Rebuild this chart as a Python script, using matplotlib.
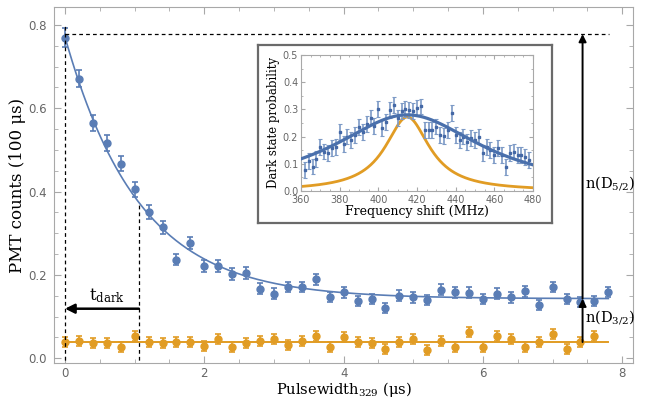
#decay of PMT counts vs 329 pulse width, with an inset of the dark state scan

import numpy as np
import matplotlib
matplotlib.use("Agg")
import matplotlib.pyplot as plt
from matplotlib.ticker import MultipleLocator, FormatStrFormatter

plt.rcParams['mathtext.fontset'] = 'dejavuserif'

#main data (pulse width in us, counts per 100 us)
t_blue = [0.0, 0.2, 0.4, 0.6, 0.8, 1.0, 1.2, 1.4, 1.6, 1.8,
          2.0, 2.2, 2.4, 2.6, 2.8, 3.0, 3.2, 3.4, 3.6, 3.8,
          4.0, 4.2, 4.4, 4.6, 4.8, 5.0, 5.2, 5.4, 5.6, 5.8,
          6.0, 6.2, 6.4, 6.6, 6.8, 7.0, 7.2, 7.4, 7.6, 7.8]
counts_blue = [0.769, 0.671, 0.565, 0.516, 0.467, 0.406, 0.351, 0.314, 0.237, 0.277,
               0.222, 0.222, 0.203, 0.205, 0.167, 0.155, 0.171, 0.171, 0.190, 0.147,
               0.158, 0.138, 0.142, 0.121, 0.150, 0.146, 0.139, 0.165, 0.158, 0.157,
               0.142, 0.155, 0.146, 0.161, 0.127, 0.171, 0.142, 0.135, 0.137, 0.159]
err_blue = [0.023, 0.021, 0.020, 0.019, 0.018, 0.018, 0.017, 0.016, 0.014, 0.015,
            0.014, 0.014, 0.014, 0.014, 0.013, 0.013, 0.013, 0.013, 0.013, 0.013,
            0.013, 0.012, 0.012, 0.012, 0.013, 0.013, 0.012, 0.013, 0.013, 0.013,
            0.012, 0.013, 0.013, 0.013, 0.012, 0.013, 0.012, 0.012, 0.012, 0.013]

t_orange = t_blue[:-1]
counts_orange = [0.038, 0.042, 0.037, 0.037, 0.027, 0.053, 0.038, 0.037, 0.039, 0.039,
                 0.030, 0.046, 0.027, 0.037, 0.042, 0.046, 0.031, 0.042, 0.053, 0.027,
                 0.050, 0.038, 0.037, 0.022, 0.039, 0.047, 0.020, 0.042, 0.027, 0.063,
                 0.026, 0.053, 0.047, 0.027, 0.038, 0.058, 0.023, 0.038, 0.053]
err_orange = 0.012

#fit parameters
fit_offset = 0.143
fit_amp = 0.628
t_dark = 1.06
fit_t_end = 7.8
dark_level = 0.039
d52_level = 0.778
arrow_x = 7.43

#inset data (frequency shift in MHz, dark state probability)
freq = [362, 364, 366, 368, 370, 372, 374, 376, 378, 380,
        382, 384, 386, 388, 390, 392, 394, 396, 398, 400,
        402, 404, 406, 408, 410, 412, 414, 416, 418, 420,
        422, 424, 426, 428, 430, 432, 434, 436, 438, 440,
        442, 444, 446, 448, 450, 452, 454, 456, 458, 460,
        462, 464, 466, 468, 470, 472, 474, 476, 478]
prob = [0.077, 0.110, 0.090, 0.118, 0.163, 0.145, 0.139, 0.157, 0.163, 0.218,
        0.172, 0.200, 0.188, 0.206, 0.236, 0.218, 0.245, 0.270, 0.240, 0.301,
        0.233, 0.253, 0.298, 0.316, 0.267, 0.294, 0.301, 0.298, 0.294, 0.304,
        0.311, 0.224, 0.224, 0.224, 0.237, 0.206, 0.203, 0.224, 0.286, 0.206,
        0.188, 0.200, 0.181, 0.194, 0.188, 0.200, 0.139, 0.163, 0.151, 0.132,
        0.157, 0.132, 0.089, 0.139, 0.145, 0.132, 0.132, 0.126, 0.114]
prob_err = 0.029

#inset fits: broad lorentzian (blue) and narrow lorentzian (orange)
f_center = 415
broad_height = 0.28
broad_hw = 47
narrow_height = 0.272
narrow_hw = 14

blue = '#5a7db5'
orange = '#e19c24'
frame_col = '#a8a8a8'
tick_col = '#666666'

fig = plt.figure(figsize=(6.47, 4.0), dpi=100)
ax = fig.add_axes([54/647, 1-363/400, 579/647, 356/400])

#fits
tt = np.linspace(0, fit_t_end, 300)
ax.plot(tt, fit_offset + fit_amp*np.exp(-tt/t_dark), color=blue, lw=1.2, zorder=2)
ax.plot([0, fit_t_end], [dark_level, dark_level], color=orange, lw=1.4, zorder=2)

#data
ax.errorbar(t_blue, counts_blue, yerr=err_blue, fmt='o', color=blue, ms=5,
            elinewidth=1.2, capsize=2.2, capthick=1.2, zorder=3)
ax.errorbar(t_orange, counts_orange, yerr=err_orange, fmt='o', color=orange, ms=5,
            elinewidth=1.2, capsize=2.2, capthick=1.2, zorder=3)

#dashed guides
ax.plot([0, 0], [-0.02, 0.80], ls=(0, (3, 2.5)), color='black', lw=0.9, zorder=4)
ax.plot([0, 7.81], [d52_level, d52_level], ls=(0, (3, 2.5)), color='black', lw=0.9, zorder=4)
y_tau = fit_offset + fit_amp*np.exp(-1)
ax.plot([t_dark, t_dark], [-0.02, y_tau], ls=(0, (3, 2.5)), color='black', lw=0.9, zorder=4)

#t_dark arrow
ax.annotate('', xy=(0, 0.119), xytext=(t_dark, 0.119),
            arrowprops=dict(arrowstyle='-|>', color='black', lw=1.8,
                            mutation_scale=14, shrinkA=0, shrinkB=0), zorder=5)
ax.text(0.35, 0.127, r'$\mathrm{t}_{\mathrm{dark}}$', fontsize=12, ha='left', va='bottom')

#level arrows
ax.annotate('', xy=(arrow_x, d52_level), xytext=(arrow_x, fit_offset),
            arrowprops=dict(arrowstyle='-|>', color='black', lw=1.4,
                            mutation_scale=11, shrinkA=0, shrinkB=0), zorder=5)
ax.annotate('', xy=(arrow_x, fit_offset), xytext=(arrow_x, dark_level),
            arrowprops=dict(arrowstyle='-|>', color='black', lw=1.4,
                            mutation_scale=11, shrinkA=0, shrinkB=0), zorder=5)
ax.text(7.47, 0.42, r'n(D$_{5/2}$)', fontsize=10.5, family='DejaVu Serif', va='center', ha='left')
ax.text(7.47, 0.099, r'n(D$_{3/2}$)', fontsize=10.5, family='DejaVu Serif', va='center', ha='left')

ax.set_xlim(-0.158, 8.154)
ax.set_ylim(-0.0113, 0.843)
ax.xaxis.set_major_locator(MultipleLocator(2))
ax.xaxis.set_minor_locator(MultipleLocator(0.5))
ax.yaxis.set_major_locator(MultipleLocator(0.2))
ax.yaxis.set_minor_locator(MultipleLocator(0.05))
ax.yaxis.set_major_formatter(FormatStrFormatter('%.1f'))
ax.tick_params(which='both', direction='in', top=True, right=True, color=frame_col,
               labelcolor=tick_col, labelsize=8.5)
ax.tick_params(which='major', length=5, pad=5)
ax.tick_params(axis='x', which='major', pad=3)
ax.tick_params(which='minor', length=3)
for s in ax.spines.values():
    s.set_color(frame_col)
ax.set_xlabel(r'Pulsewidth$_{329}$ (μs)', family='DejaVu Serif', fontsize=10.5, labelpad=0)
ax.set_ylabel('PMT counts (100 μs)', family='DejaVu Serif', fontsize=12, labelpad=2)

#inset frame
box = fig.add_axes([258/647, 1-223/400, 294/647, 178/400])
box.set_xticks([])
box.set_yticks([])
box.set_facecolor('white')
for s in box.spines.values():
    s.set_color('#6a6a6a')
    s.set_linewidth(1.6)

ins = fig.add_axes([301/647, 1-191/400, 232/647, 136/400])
ff = np.linspace(360, 480, 400)
ins.plot(ff, narrow_height/(1 + ((ff - f_center)/narrow_hw)**2), color=orange, lw=2.0, zorder=2)
ins.errorbar(freq, prob, yerr=prob_err, fmt='s', color='#4468a6', ms=1.8,
             ecolor='#7d9ac6', elinewidth=1.2, capsize=1.3, capthick=0.8, zorder=3)
ins.plot(ff, broad_height/(1 + ((ff - f_center)/broad_hw)**2), color='#4a70ac', lw=2.3, zorder=4)
ins.set_xlim(360, 480)
ins.set_ylim(0, 0.5)
ins.xaxis.set_major_locator(MultipleLocator(20))
ins.xaxis.set_minor_locator(MultipleLocator(5))
ins.yaxis.set_major_locator(MultipleLocator(0.1))
ins.yaxis.set_minor_locator(MultipleLocator(0.05))
ins.yaxis.set_major_formatter(FormatStrFormatter('%.1f'))
ins.tick_params(which='both', direction='in', top=True, right=True, color=frame_col,
                labelcolor=tick_col, labelsize=7, pad=2)
ins.tick_params(axis='x', which='major', pad=3)
ins.tick_params(which='major', length=3)
ins.tick_params(which='minor', length=1.5)
for s in ins.spines.values():
    s.set_color(frame_col)
ins.set_xlabel('Frequency shift (MHz)', family='DejaVu Serif', fontsize=9, labelpad=0)
ins.set_ylabel('Dark state probability', family='DejaVu Serif', fontsize=8.5, labelpad=2)

fig.savefig('out.png', dpi=100)
